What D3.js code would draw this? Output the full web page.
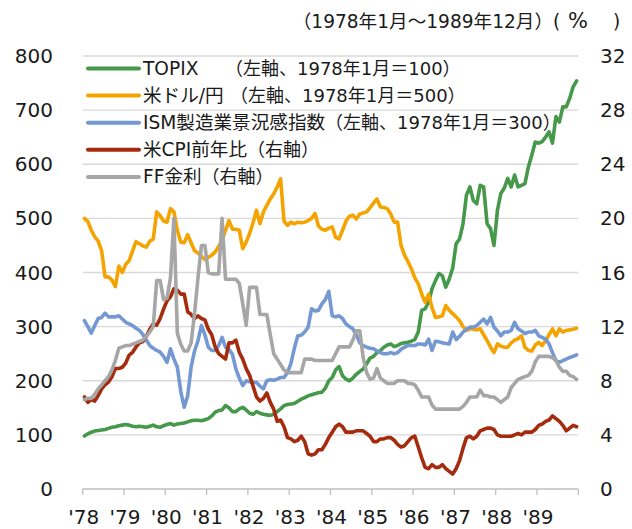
<!DOCTYPE html>
<html>
<head>
<meta charset="utf-8">
<script src="https://cdn.jsdelivr.net/npm/d3@7"></script>
<style>
  body { margin: 0; background: #fff; }
  svg { display: block; font-family: "DejaVu Sans", "Noto Sans CJK JP", sans-serif; }
</style>
</head>
<body>
<svg width="632" height="529"></svg>
<script>
// monthly values, Jan 1978 .. Dec 1989 (one row per year)
const yearLabels = ["'78", "'79", "'80", "'81", "'82", "'83", "'84", "'85", "'86", "'87", "'88", "'89"];
const leftTicks = [0, 100, 200, 300, 400, 500, 600, 700, 800];
const rightTicks = [0, 4, 8, 12, 16, 20, 24, 28, 32];

const topix = [
  98, 102, 105, 107, 108, 109, 110, 112, 114, 115, 117, 118,
  119, 118, 116, 115, 116, 115, 114, 116, 118, 115, 114, 117,
  119, 121, 118, 120, 121, 122, 124, 126, 127, 127, 126, 128,
  130, 135, 142, 145, 146, 154, 150, 143, 143, 148, 151, 146,
  140, 138, 143, 140, 138, 137, 136, 138, 143, 148, 154, 156,
  157, 158, 162, 166, 169, 172, 174, 176, 178, 179, 186, 200,
  206, 220, 226, 209, 203, 200, 205, 212, 217, 222, 231, 242,
  245, 252, 256, 262, 266, 268, 263, 265, 269, 270, 271, 273,
  276, 290, 330, 333, 345, 370, 385, 398, 394, 373, 388, 408,
  453, 462, 490, 543, 558, 533, 527, 561, 558, 490, 481, 450,
  515, 546, 556, 574, 558, 580, 558, 561, 564, 595, 617, 641,
  639, 642, 650, 660, 639, 688, 678, 706, 706, 722, 743, 754
];

const usdJpy = [
  500, 494, 478, 466, 458, 440, 392, 392, 386, 374, 412, 400,
  415, 422, 440, 457, 453, 449, 447, 458, 462, 512, 505, 495,
  493, 518, 512, 478, 456, 455, 470, 455, 440, 436, 430, 424,
  428, 432, 438, 448, 460, 478, 496, 480, 480, 478, 444, 456,
  472, 492, 515, 490, 512, 524, 536, 545, 558, 573, 495, 487,
  493, 490, 493, 492, 493, 496, 500, 509, 486, 480, 478, 482,
  484, 465, 462, 478, 495, 504, 506, 499, 508, 510, 512, 520,
  528, 536, 521, 520, 518, 508, 493, 493, 450, 432, 420, 407,
  390, 379, 360, 345, 360, 335, 317, 318, 320, 339, 330, 324,
  318, 311, 300, 293, 296, 295, 294, 296, 285, 274, 262, 252,
  268, 264, 262, 262, 270, 275, 278, 283, 262, 256, 255, 266,
  271, 265, 274, 285, 296, 283, 296, 290, 293, 294, 295, 297
];

const ism = [
  311, 300, 288, 302, 315, 317, 325, 318, 318, 318, 320, 314,
  308, 305, 302, 297, 293, 285, 275, 265, 260, 256, 253, 245,
  234, 259, 240, 225, 180, 151, 172, 225, 255, 274, 302, 285,
  262, 256, 256, 265, 280, 262, 258, 249, 222, 205, 191, 200,
  198, 197, 197, 190, 185, 200, 202, 201, 203, 206, 206, 215,
  232, 260, 283, 284, 290, 299, 333, 329, 330, 342, 350, 365,
  320, 318, 320, 315, 305, 300, 296, 285, 270, 265, 262, 260,
  259, 255, 252, 250, 250, 252, 250, 252, 258, 262, 265, 265,
  265, 268, 268, 266, 277, 256, 273, 272, 270, 269, 268, 290,
  276, 282, 290, 295, 299, 299, 302, 308, 314, 305, 317, 299,
  292, 283, 290, 290, 293, 308, 296, 292, 287, 290, 290, 293,
  283, 280, 277, 268, 252, 237, 234, 237, 240, 243, 245, 248
];

const cpiYoy = [
  6.8, 6.4, 6.6, 6.5, 6.9, 7.4, 7.7, 7.9, 8.3, 8.9, 8.9, 9.0,
  9.3, 9.9, 10.1, 10.5, 10.8, 10.9, 11.3, 11.8, 12.2, 12.1, 12.6, 13.3,
  13.9, 14.2, 14.8, 14.7, 14.4, 14.4, 13.1, 12.9, 12.6, 12.8, 12.6, 12.5,
  11.8, 11.4, 10.5, 10.0, 9.8, 9.6, 10.8, 10.8, 11.0, 10.1, 9.6, 8.9,
  8.4, 7.6, 6.8, 6.5, 6.7, 7.1, 6.4, 5.9, 5.0, 5.1, 4.6, 3.8,
  3.7, 3.5, 3.6, 3.9, 3.5, 2.6, 2.5, 2.6, 2.9, 2.9, 3.3, 3.8,
  4.2, 4.6, 4.8, 4.6, 4.2, 4.2, 4.2, 4.3, 4.3, 4.3, 4.1, 3.9,
  3.5, 3.5, 3.7, 3.7, 3.8, 3.8, 3.6, 3.3, 3.1, 3.2, 3.5, 3.8,
  3.9, 3.1, 2.3, 1.6, 1.5, 1.8, 1.6, 1.6, 1.8, 1.5, 1.3, 1.1,
  1.5, 2.1, 3.0, 3.8, 3.9, 3.7, 3.9, 4.3, 4.4, 4.5, 4.5, 4.4,
  4.0, 3.9, 3.9, 3.9, 3.9, 4.0, 4.1, 4.0, 4.2, 4.2, 4.2, 4.4,
  4.7, 4.8, 5.0, 5.1, 5.4, 5.2, 5.0, 4.7, 4.3, 4.5, 4.7, 4.6
];

const ffRate = [
  6.6, 6.7, 6.7, 7.0, 7.4, 7.7, 8.0, 8.3, 8.8, 9.5, 10.4, 10.5,
  10.6, 10.6, 10.7, 10.8, 10.9, 11.0, 11.3, 11.6, 12.0, 15.4, 15.4, 14.0,
  14.1, 15.6, 20.0, 11.5, 10.7, 10.2, 10.2, 10.8, 13.0, 15.6, 18.0, 18.0,
  16.0, 15.9, 15.9, 15.9, 20.0, 15.5, 15.5, 15.5, 15.5, 15.2, 13.7, 12.1,
  14.9, 14.9, 14.9, 12.9, 12.9, 12.9, 11.4, 10.0, 9.6, 9.2, 8.8, 8.6,
  8.6, 8.6, 8.6, 8.6, 9.6, 9.6, 9.6, 9.5, 9.5, 9.5, 9.5, 9.5,
  9.5, 10.0, 10.5, 10.5, 10.5, 10.5, 11.0, 11.7, 11.7, 9.7, 8.6, 8.1,
  8.2, 8.9, 8.2, 8.0, 7.8, 7.8, 7.8, 8.0, 8.0, 8.0, 7.8, 7.8,
  7.7, 7.3, 6.8, 6.8, 6.8, 6.2, 5.9, 5.9, 5.9, 5.9, 5.9, 5.9,
  5.9, 5.9, 6.1, 6.4, 6.8, 6.8, 6.8, 7.3, 6.9, 6.9, 6.8, 6.8,
  6.6, 6.4, 6.6, 6.8, 7.5, 7.8, 8.1, 8.2, 8.3, 8.4, 8.7, 9.4,
  9.8, 9.8, 9.8, 9.8, 9.7, 9.5, 9.0, 8.7, 8.7, 8.4, 8.3, 8.1
];

// legend: name, axis note (null x = right after the name)
const seriesNames = [
  ["TOPIX", "（左軸、1978年1月＝100）", 225],
  ["米ドル/円", "（左軸、1978年1月＝500）", 230],
  ["ISM製造業景況感指数", "（左軸、1978年1月＝300）", null],
  ["米CPI前年比", "（右軸）", null],
  ["FF金利", "（右軸）", null]
];

(function() {
  const svg = d3.select("svg");
  const left = 82.7, right = 578.3, top = 56, bottom = 489;
  const ink = "#1a1a1a";

  const months = d3.range(yearLabels.length * 12);
  const x = d3.scaleBand().domain(months).range([left, right]);
  const cx = i => x(i) + x.bandwidth() / 2;
  const yL = d3.scaleLinear().domain([0, 800]).range([bottom, top]);
  const yR = d3.scaleLinear().domain([0, 32]).range([bottom, top]);

  const series = [
    { values: topix,  axis: yL, color: "#46984a" },
    { values: usdJpy, axis: yL, color: "#f5a300" },
    { values: ism,    axis: yL, color: "#7498d2" },
    { values: cpiYoy, axis: yR, color: "#a52b0e" },
    { values: ffRate, axis: yR, color: "#a6a6a6" }
  ];

  // gridlines
  svg.append("g")
    .selectAll("line")
    .data(leftTicks.filter(d => d > 0))
    .enter().append("line")
    .attr("x1", left).attr("x2", right)
    .attr("y1", d => yL(d)).attr("y2", d => yL(d))
    .attr("stroke", "#d9d9d9").attr("stroke-width", 1.3);

  // left axis labels
  svg.append("g")
    .selectAll("text")
    .data(leftTicks)
    .enter().append("text")
    .attr("x", 53).attr("y", d => yL(d) + 7)
    .attr("text-anchor", "end")
    .attr("font-size", 20).attr("fill", ink)
    .text(d => d);

  // right axis labels
  svg.append("g")
    .selectAll("text")
    .data(rightTicks)
    .enter().append("text")
    .attr("x", 600).attr("y", d => yR(d) + 7)
    .attr("font-size", 20).attr("fill", ink)
    .text(d => d);

  // x axis
  const xAxis = svg.append("g").attr("transform", `translate(0,${bottom})`);
  xAxis.append("line")
    .attr("x1", left).attr("x2", right)
    .attr("stroke", "#bfbfbf").attr("stroke-width", 1.3);
  const tickPos = d3.range(yearLabels.length).map(k => x(k * 12)).concat([right]);
  xAxis.selectAll(".tick")
    .data(tickPos)
    .enter().append("line")
    .attr("class", "tick")
    .attr("x1", d => d).attr("x2", d => d)
    .attr("y1", 0).attr("y2", 6)
    .attr("stroke", "#bfbfbf").attr("stroke-width", 1.3);
  xAxis.selectAll("text")
    .data(yearLabels)
    .enter().append("text")
    .attr("x", (d, k) => x(k * 12) + 1)
    .attr("y", 35)
    .attr("text-anchor", "middle")
    .attr("font-size", 20).attr("fill", ink)
    .text(d => d);

  // lines
  series.forEach(s => {
    const line = d3.line()
      .x((d, i) => cx(i))
      .y(d => s.axis(d));
    svg.append("path")
      .datum(s.values)
      .attr("d", line)
      .attr("fill", "none")
      .attr("stroke", s.color)
      .attr("stroke-width", 3.6)
      .attr("stroke-linejoin", "round")
      .attr("stroke-linecap", "round");
  });

  // legend
  const legend = svg.append("g").attr("transform", "translate(0,68.5)");
  seriesNames.forEach((names, i) => {
    const row = legend.append("g").attr("transform", `translate(0, ${i * 27.1})`);
    row.append("line")
      .attr("x1", 88).attr("x2", 139)
      .attr("stroke", series[i].color)
      .attr("stroke-width", 4)
      .attr("stroke-linecap", "round");
    const t = row.append("text")
      .attr("x", 143).attr("y", 6.5)
      .attr("font-size", 18).attr("fill", ink);
    t.append("tspan").attr("font-size", 18.6).text(names[0]);
    const note = t.append("tspan").text(names[1]);
    if (names[2] !== null) note.attr("x", names[2]);
  });

  // title and unit: one text chunk, spaced with dx
  const title = svg.append("text")
    .attr("y", 28)
    .attr("font-size", 18.6).attr("fill", ink);
  const period = title.append("tspan").text("（1978年1月～1989年12月）");
  title.attr("x", 553 - period.node().getComputedTextLength());
  title.append("tspan").text("(");
  title.append("tspan").attr("dx", 7.7).attr("font-size", 21).text("%");
  title.append("tspan").attr("dx", 25).text(")");
})();
</script>
</body>
</html>
